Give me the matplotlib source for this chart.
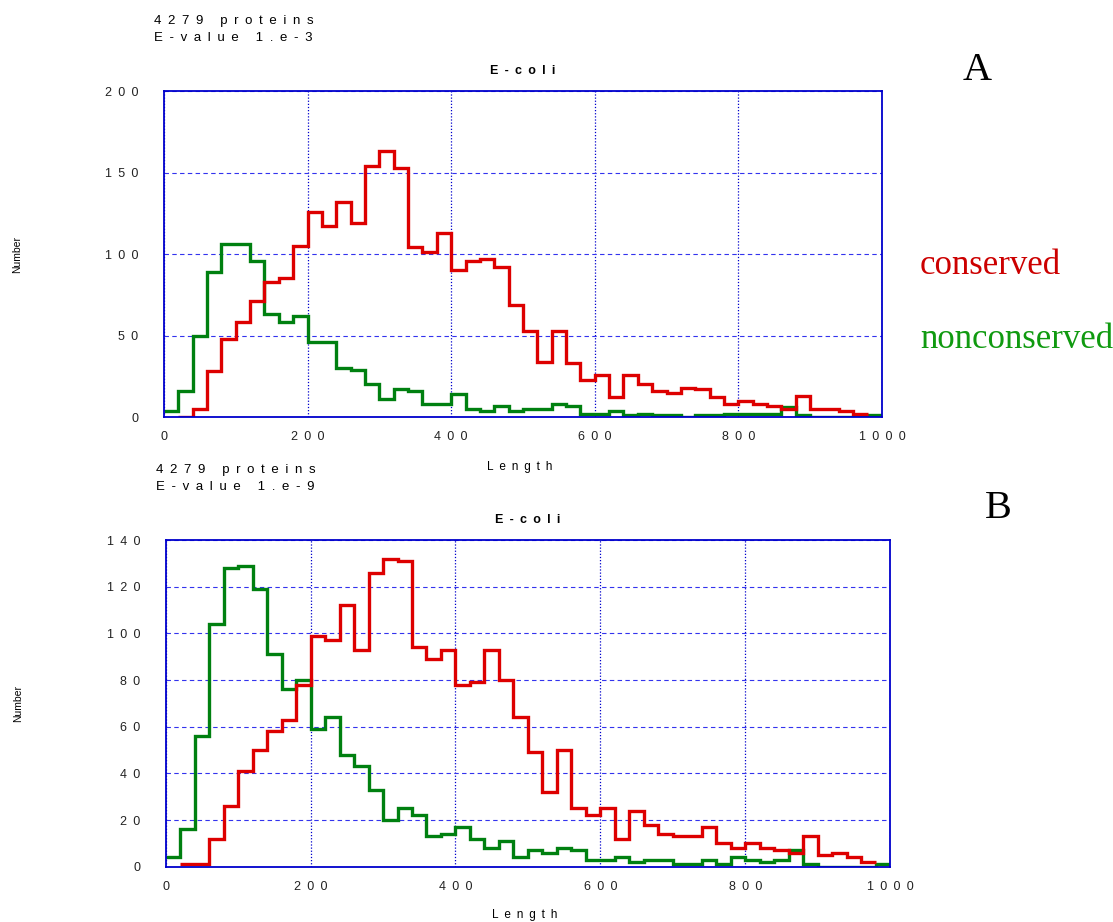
import numpy as np
import matplotlib
matplotlib.use("Agg")
import matplotlib.pyplot as plt
from matplotlib.ticker import FuncFormatter

# bins of 20 residues, 0..1000
bin_edges = np.arange(0, 1001, 20)

# panel A, E-value 1.e-3
green_a = [4, 16, 50, 89, 106, 106, 96, 63, 58, 62,
           46, 46, 30, 29, 20, 11, 17, 16, 8, 8,
           14, 5, 4, 7, 4, 5, 5, 8, 7, 2,
           2, 4, 1, 2, 1, 1, 0, 1, 1, 2,
           2, 2, 2, 6, 1, 0, 0, 0, 0, 1]
# red curve starts at bin 1 (20) and stops at 980
red_a = [0, 5, 28, 48, 58, 71, 83, 85, 105, 126,
         117, 132, 119, 154, 163, 153, 104, 101, 113, 90,
         96, 97, 92, 69, 53, 34, 53, 33, 23, 26,
         12, 26, 20, 16, 15, 18, 17, 12, 8, 10,
         8, 7, 5, 13, 5, 5, 4, 2]

# panel B, E-value 1.e-9
green_b = [4, 16, 56, 104, 128, 129, 119, 91, 76, 80,
           59, 64, 48, 43, 33, 20, 25, 22, 13, 14,
           17, 12, 8, 11, 4, 7, 6, 8, 7, 3,
           3, 4, 2, 3, 3, 1, 1, 3, 1, 4,
           3, 2, 3, 7, 1, 0, 0, 0, 0, 1]
red_b = [1, 1, 12, 26, 41, 50, 58, 63, 78, 99,
         97, 112, 93, 126, 132, 131, 94, 89, 93, 78,
         79, 93, 80, 64, 49, 32, 50, 25, 22, 25,
         12, 24, 18, 14, 13, 13, 17, 10, 8, 10,
         8, 7, 6, 13, 5, 6, 4, 2]

RED = "#dd0000"
GREEN = "#008010"
BLUE = "#0000cc"
SANS = "Liberation Sans"
SERIF = "Liberation Serif"
GAP = "\u2002"  # en space, the original spreads every character out


def sp(s):
    # word breaks get one more plain space
    return GAP.join(" " if c == " " else c for c in s)


fig = plt.figure(figsize=(11.13, 9.22), dpi=100)


def panel(rect, green, red, ymax, ystep, evalue, tpad, xlab_y):
    ax = fig.add_axes(rect)
    ax.stairs(green, bin_edges, baseline=None, color=GREEN, lw=2.4)
    ax.stairs(red, bin_edges[1:len(red) + 2], baseline=None, color=RED, lw=2.4)
    ax.set_xlim(0, 1000)
    ax.set_ylim(0, ymax)
    ax.set_xticks(np.arange(0, 1001, 200))
    ax.set_yticks(np.arange(0, ymax + 1, ystep))
    fmt = FuncFormatter(lambda v, p: sp(str(int(v))))
    ax.xaxis.set_major_formatter(fmt)
    ax.yaxis.set_major_formatter(fmt)
    ax.tick_params(length=0, labelsize=9, colors="#222222")
    ax.tick_params(axis="x", pad=10)
    ax.tick_params(axis="y", pad=18.5)
    for lab in ax.get_xticklabels() + ax.get_yticklabels():
        lab.set_family(SANS)
    ax.grid(axis="x", color=BLUE, ls=(0, (1, 1.5)), lw=0.9)
    ax.grid(axis="y", color="#3333ee", ls=(0, (4, 3)), lw=0.8)
    ax.set_axisbelow(True)
    for s in ax.spines.values():
        s.set_color(BLUE)
        s.set_linewidth(1.3)
    ax.set_title(sp("E-coli"), fontsize=9, fontweight="bold", family=SANS, pad=tpad)
    ax.set_xlabel(sp("Length"), fontsize=8.5, family=SANS)
    ax.xaxis.set_label_coords(0.496, xlab_y)
    ax.set_ylabel("Number", fontsize=7.5, family=SANS)
    ax.yaxis.set_label_coords(-0.197, 0.5)
    # header text above each panel
    ax.text(-0.014, 1.206, sp("4279 proteins"), transform=ax.transAxes,
            fontsize=9.5, family=SANS, va="baseline")
    ax.text(-0.014, 1.153, sp("E-value 1.e-" + evalue), transform=ax.transAxes,
            fontsize=9.5, family=SANS, va="baseline")
    return ax


ax_a = panel([0.1473, 0.5477, 0.6451, 0.3536], green_a, red_a, 200, 50, "3", 12, -0.135)
ax_b = panel([0.1489, 0.0600, 0.6508, 0.3543], green_b, red_b, 140, 20, "9", 12.5, -0.129)

fig.text(977 / 1113, 1 - 71 / 922, "A", fontsize=29, family=SERIF, ha="center", va="center")
fig.text(998 / 1113, 1 - 509 / 922, "B", fontsize=29, family=SERIF, ha="center", va="center")
fig.text(920 / 1113, 1 - 266 / 922, "conserved", fontsize=25, family=SERIF,
         color="#cc0000", ha="left", va="center")
fig.text(920 / 1113, 1 - 340 / 922, "nonconserved", fontsize=25, family=SERIF,
         color="#109a10", ha="left", va="center")

fig.savefig("out.png", dpi=100)
